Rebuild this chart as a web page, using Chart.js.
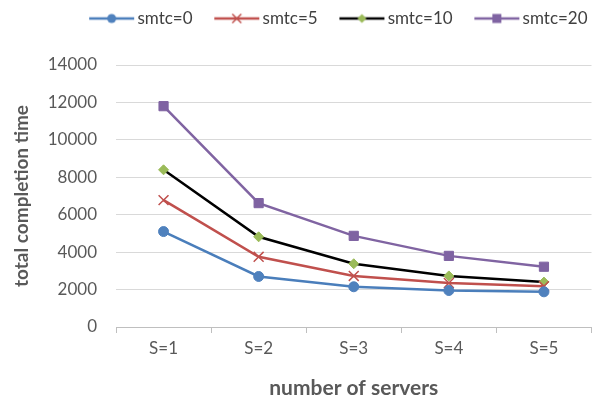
<!DOCTYPE html>
<html>
<head>
<meta charset="utf-8">
<script src="https://cdn.jsdelivr.net/npm/chart.js@4"></script>
<style>
  html, body { margin: 0; padding: 0; background: #fff; overflow: hidden; }
  #wrap { width: 600px; height: 401px; }
</style>
</head>
<body>
<div id="wrap"><canvas id="chart1"></canvas></div>
<script>
  const categories = ['S=1', 'S=2', 'S=3', 'S=4', 'S=5'];
  const smtc0 = [5100, 2700, 2150, 1950, 1880];
  const smtc5 = [6780, 3750, 2730, 2350, 2180];
  const smtc10 = [8400, 4820, 3380, 2730, 2400];
  const smtc20 = [11800, 6620, 4870, 3800, 3220];
  const yTicks = [0, 2000, 4000, 6000, 8000, 10000, 12000, 14000];

  const FONT = 'Lato, "Open Sans", sans-serif';

  // petite image ligne + marqueur pour la légende (décalée pour coller au texte)
  function legendIcon(lineColor, markerColor, style) {
    const c = document.createElement('canvas');
    c.width = 64; c.height = 14;
    const g = c.getContext('2d');
    const x0 = 18, x1 = 63, cx = 40.5, cy = 7;
    g.strokeStyle = lineColor;
    g.lineWidth = 2.5;
    g.beginPath(); g.moveTo(x0, cy); g.lineTo(x1, cy); g.stroke();
    g.fillStyle = markerColor;
    g.strokeStyle = markerColor;
    if (style === 'circle') {
      g.beginPath(); g.arc(cx, cy, 4.5, 0, Math.PI * 2); g.fill();
    } else if (style === 'cross') {
      g.lineWidth = 1.5;
      g.beginPath(); g.moveTo(cx - 4.5, cy - 4.5); g.lineTo(cx + 4.5, cy + 4.5);
      g.moveTo(cx + 4.5, cy - 4.5); g.lineTo(cx - 4.5, cy + 4.5); g.stroke();
    } else if (style === 'diamond') {
      g.beginPath(); g.moveTo(cx, cy - 4.5); g.lineTo(cx + 4.5, cy); g.lineTo(cx, cy + 4.5); g.lineTo(cx - 4.5, cy); g.closePath(); g.fill();
    } else {
      g.fillRect(cx - 4.5, cy - 4.5, 9, 9);
    }
    return c;
  }

  const series = [
    { label: 'smtc=0', data: smtc0, line: '#4a7ebb', marker: '#4f81bd', style: 'circle', ps: 'circle', r: 5 },
    { label: 'smtc=5', data: smtc5, line: '#c0504d', marker: '#c0504d', style: 'cross', ps: 'crossRot', r: 7 },
    { label: 'smtc=10', data: smtc10, line: '#000000', marker: '#9bbb59', style: 'diamond', ps: 'rectRot', r: 5 },
    { label: 'smtc=20', data: smtc20, line: '#8064a2', marker: '#7f63a2', style: 'square', ps: 'rect', r: 6.5 }
  ];

  // espace sous la légende + décalage horizontal comme dans Excel
  const legendGap = {
    id: 'legendGap',
    beforeUpdate(chart) {
      const lg = chart.legend;
      if (lg && !lg._gapDone) {
        const fit = lg.fit;
        lg.fit = function () { fit.call(this); this.height += 28; };
        lg._gapDone = true;
      }
    },
    afterLayout(chart) {
      chart.legend.left += 25;
      chart.legend.right += 25;
    }
  };

  const ctx = document.getElementById('chart1').getContext('2d');

  const chart1 = new Chart(ctx, {
    type: 'line',
    data: {
      labels: categories,
      datasets: series.map(s => ({
        label: s.label,
        data: s.data,
        borderColor: s.line,
        borderWidth: 2.5,
        pointStyle: s.ps,
        pointRadius: s.r,
        pointBackgroundColor: s.marker,
        pointBorderColor: s.marker,
        pointBorderWidth: s.style === 'cross' ? 1.5 : 1,
        tension: 0,
        fill: false
      }))
    },
    plugins: [legendGap],
    options: {
      responsive: true,
      maintainAspectRatio: false,
      animation: false,
      layout: { padding: { top: 0, right: -5, left: 10, bottom: 0 } },
      plugins: {
        legend: {
          position: 'top',
          labels: {
            usePointStyle: true,
            pointStyleWidth: 51.5,
            padding: 10,
            color: '#404040',
            font: { family: FONT, size: 17 },
            generateLabels: chart => series.map((s, i) => ({
              text: s.label,
              datasetIndex: i,
              pointStyle: legendIcon(s.line, s.marker, s.style),
              fontColor: '#404040',
              lineWidth: 0,
              hidden: false
            }))
          }
        },
        tooltip: { enabled: false }
      },
      scales: {
        x: {
          offset: true,
          afterFit: axis => { axis.paddingLeft = 0; axis.paddingRight = 0; axis.height = 74; },
          grid: { drawOnChartArea: false, offset: true, tickLength: 6, color: '#bfbfbf' },
          border: { color: '#bfbfbf' },
          ticks: { color: '#595959', font: { family: FONT, size: 17 }, padding: 5 },
          title: {
            display: true,
            text: 'number of servers',
            color: '#595959',
            font: { family: FONT, size: 21, weight: 'bold' },
            padding: { top: 17, bottom: 0 }
          }
        },
        y: {
          min: 0,
          max: 14000,
          afterBuildTicks: axis => { axis.ticks = yTicks.map(v => ({ value: v })); },
          afterFit: axis => { axis.width = 106; },
          grid: { color: '#d9d9d9', drawTicks: false },
          border: { display: false },
          ticks: {
            color: '#595959',
            font: { family: FONT, size: 17 },
            padding: 19,
            callback: v => String(v)
          },
          title: {
            display: true,
            text: 'total completion time',
            color: '#595959',
            font: { family: FONT, size: 19, weight: 'bold' },
            padding: { top: 0, bottom: 18 }
          }
        }
      }
    }
  });
</script>
</body>
</html>
